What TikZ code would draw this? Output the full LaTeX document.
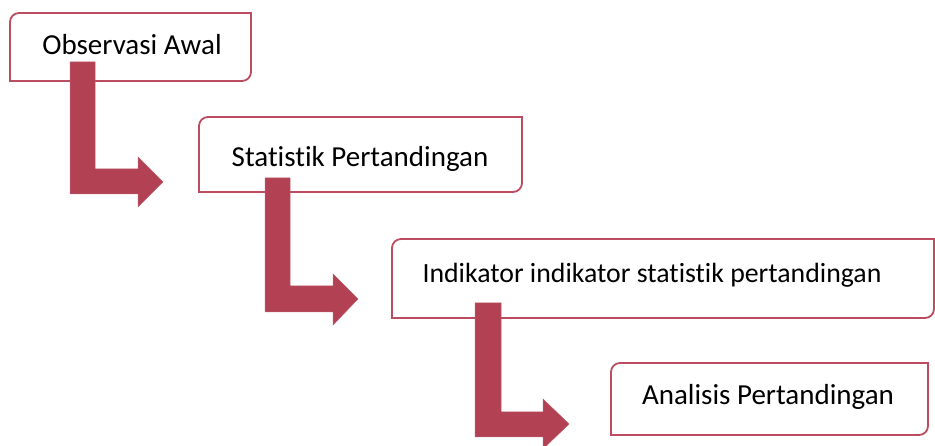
\documentclass[tikz,border=0pt]{standalone}
\usepackage{fontspec}
\setmainfont{Carlito}[Ligatures={NoCommon}]
\definecolor{arrowred}{RGB}{177,65,83}
\definecolor{boxred}{RGB}{188,76,96}
\newcommand\halfroundbox[1]{%
  \draw[boxline] (#1.north east) -- ([xshift=9pt]#1.north west)
    arc[start angle=90,end angle=180,radius=9pt] -- (#1.south west)
    -- ([xshift=-9pt]#1.south east)
    arc[start angle=270,end angle=360,radius=9pt] -- cycle;}
\begin{document}
\begin{tikzpicture}[x=1pt,y=1pt,
  boxnode/.style={rectangle,draw=none,inner sep=0pt,outer sep=0pt},
  boxline/.style={draw=boxred,line width=1.8pt,fill=white},
  label/.style={anchor=base,inner sep=0pt,font=\fontsize{29}{34}\selectfont},
  blockarrow/.style={fill=arrowred,draw=arrowred!85!white,line width=0.5pt}]
\useasboundingbox (0,0) rectangle (935,446);
\node[boxnode,minimum width=241pt,minimum height=68pt] (b1) at (130.5,399) {};
\node[boxnode,minimum width=323pt,minimum height=75pt] (b2) at (360.5,291.5) {};
\node[boxnode,minimum width=542pt,minimum height=79pt] (b3) at (663,167.5) {};
\node[boxnode,minimum width=317pt,minimum height=72pt] (b4) at (769.5,47) {};
\halfroundbox{b1}
\halfroundbox{b2}
\halfroundbox{b3}
\halfroundbox{b4}
\node[label] (t1) at (132,391) {Observasi Awal};
\node[label] (t2) at (360,279) {Statistik Pertandingan};
\node[label,font=\fontsize{27.8}{33}\selectfont] (t3) at (652,163) {Indikator indikator statistik pertandingan};
\node[label] (t4) at (768,41) {Analisis Pertandingan};
% block arrows
\path[blockarrow] (70,384) -- (95,384) -- (95,277) -- (138,277) -- (138,289)
  -- (163,264) -- (138,239) -- (138,252) -- (70,252) -- cycle;
\path[blockarrow] (265,268) -- (290,268) -- (290,160) -- (333,160) -- (333,172)
  -- (358,147) -- (333,121) -- (333,134) -- (265,134) -- cycle;
\path[blockarrow] (475,143) -- (501,143) -- (501,34) -- (543,34) -- (543,47)
  -- (569,22) -- (543,-3) -- (543,9) -- (475,9) -- cycle;
\end{tikzpicture}
\end{document}
